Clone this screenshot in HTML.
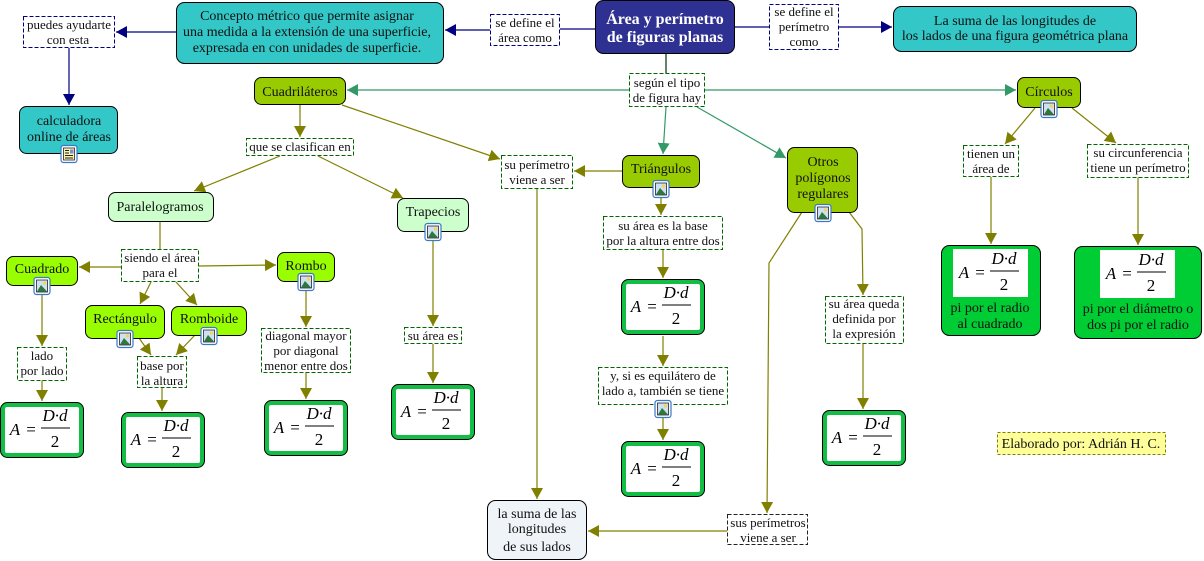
<!DOCTYPE html>
<html><head><meta charset="utf-8"><style>
html,body{margin:0;padding:0;background:#fff}
svg{display:block}
text{font-family:"Liberation Serif",serif;font-size:13px;text-anchor:middle;fill:#111}
.b{font-size:14px}
.f text{font-family:"Liberation Serif",serif;font-style:italic;font-size:17px;fill:#000}
.f .u{font-style:normal}
.n{stroke:#000;stroke-width:1}
.l{fill:#fff;stroke:#006600;stroke-width:1;stroke-dasharray:4 2}
.k{fill:#fff;stroke:#000080;stroke-width:1;stroke-dasharray:4 2}
.e{fill:none;stroke:#808000;stroke-width:1.2}
.g{fill:none;stroke:#339966;stroke-width:1.2}
.a{fill:none;stroke:#000080;stroke-width:1.2}
.o{marker-end:url(#mo)}
.s{marker-end:url(#mg)}
.v{marker-end:url(#mn)}
</style></head><body>
<svg width="1204" height="561" viewBox="0 0 1204 561" xmlns="http://www.w3.org/2000/svg">
<defs>
<marker id="mo" markerUnits="userSpaceOnUse" markerWidth="13" markerHeight="13" refX="11" refY="6" orient="auto"><path d="M0 0L11 6L0 12Z" fill="#808000"/></marker>
<marker id="mg" markerUnits="userSpaceOnUse" markerWidth="13" markerHeight="13" refX="11" refY="6" orient="auto"><path d="M0 0L11 6L0 12Z" fill="#339966"/></marker>
<marker id="mn" markerUnits="userSpaceOnUse" markerWidth="13" markerHeight="13" refX="11" refY="6" orient="auto"><path d="M0 0L11 6L0 12Z" fill="#000080"/></marker>
<g id="ic"><rect x="-8" y="-8.5" width="16" height="17" rx="2.5" fill="#fff" stroke="#3a78c8" stroke-width="1.2"/><rect x="-5.5" y="-6" width="11" height="12" fill="#cfe0f0" stroke="#223" stroke-width=".8"/><circle cx="2.5" cy="-3" r="1.6" fill="#f2d64b"/><path d="M-5 5.5L-1 -1L5 5.5Z" fill="#2b7a3c"/></g>
<g id="id"><rect x="-8" y="-8.5" width="16" height="17" rx="2.5" fill="#fff" stroke="#3a78c8" stroke-width="1.2"/><rect x="-5.5" y="-6" width="11" height="12" fill="#fbf3b0" stroke="#223" stroke-width=".8"/><path d="M-4 -3.5H0M-4 -1H0M-4 1.5H4M-4 4H4" stroke="#222" stroke-width=".9"/><rect x="1" y="-4.5" width="3.5" height="4" fill="#7e8fc8"/></g>
</defs>

<!-- navy connectors -->
<path class="a" d="M595 29H560"/>
<path class="a v" d="M490 30H445"/>
<path class="a" d="M735 27H769"/>
<path class="a v" d="M839 27H892"/>
<path class="a v" d="M176 32H116"/>
<path class="a v" d="M69 48V105"/>
<path d="M666 53V73" fill="none" stroke="#003300" stroke-width="1.2"/>

<!-- green connectors -->
<path class="g s" d="M629 90H347"/>
<path class="g s" d="M705 90H1016"/>
<path class="g s" d="M666 107L663 154"/>
<path class="g s" d="M697 107L786 158"/>

<!-- olive connectors -->
<path class="e o" d="M300 105V137"/>
<path class="e o" d="M342 105L500 159"/>
<path class="e o" d="M280 156L194 191"/>
<path class="e o" d="M318 156L403 198"/>
<path class="e" d="M160 222V249"/>
<path class="e o" d="M121 267H79"/>
<path class="e o" d="M199 266L276 265"/>
<path class="e o" d="M151 282L140 304"/>
<path class="e o" d="M176 282L197 305"/>
<path class="e o" d="M42 295V346"/>
<path class="e o" d="M42 380V401"/>
<path class="e o" d="M139 338L151 355"/>
<path class="e o" d="M195 335L176 355"/>
<path class="e o" d="M162 388V411"/>
<path class="e o" d="M306 291V327"/>
<path class="e o" d="M306 373V399"/>
<path class="e o" d="M433 241V326"/>
<path class="e o" d="M433 344V383"/>
<path class="e o" d="M537 189V499"/>
<path class="e o" d="M622 171H574"/>
<path class="e o" d="M661 198V215"/>
<path class="e o" d="M663 249V278"/>
<path class="e o" d="M663 336V366"/>
<path class="e o" d="M663 417V440"/>
<path class="e o" d="M802 212L769 263L767 513"/>
<path class="e o" d="M849 212L862 229L863 295"/>
<path class="e o" d="M863 343V409"/>
<path class="e o" d="M727 531H588"/>
<path class="e o" d="M1035 108L1005 144"/>
<path class="e o" d="M1072 108L1116 143"/>
<path class="e o" d="M991 177V244"/>
<path class="e o" d="M1138 177V245"/>

<!-- top nodes -->
<rect class="n" x="595.5" y="0.5" width="139" height="53" rx="8" fill="#2e3192"/>
<text x="665" y="24" style="font-weight:bold;fill:#fff;font-size:16px">Área y perímetro</text>
<text x="665" y="42" style="font-weight:bold;fill:#fff;font-size:16px">de figuras planas</text>

<rect class="n" x="176.5" y="2.5" width="267" height="61" rx="8" fill="#33c7c7"/>
<text class="b" x="307" y="20">Concepto métrico que permite asignar</text>
<text class="b" x="307" y="36">una medida a la extensión de una superficie,</text>
<text class="b" x="307" y="52">expresada en con unidades de superficie.</text>

<rect class="n" x="893.5" y="6.5" width="243" height="45" rx="8" fill="#33c7c7"/>
<text class="b" x="1015" y="25">La suma de las longitudes de</text>
<text class="b" x="1015" y="40">los lados de una figura geométrica plana</text>

<rect class="k" x="23.5" y="16.5" width="91" height="31"/>
<text x="69" y="29">puedes ayudarte</text>
<text x="68" y="44">con esta</text>

<rect class="n" x="19.5" y="106.5" width="98" height="47" rx="7" fill="#33c7c7"/>
<text class="b" x="69" y="125">calculadora</text>
<text class="b" x="69" y="141">online de áreas</text>
<use href="#id" x="69" y="154"/>

<rect class="k" x="490.5" y="14.5" width="69" height="31"/>
<text x="525" y="27">se define el</text>
<text x="525" y="42">área como</text>

<rect class="k" x="769.5" y="4.5" width="69" height="45"/>
<text x="804" y="16">se define el</text>
<text x="804" y="31">perímetro</text>
<text x="804" y="46">como</text>

<rect class="l" x="629.5" y="73.5" width="75" height="33"/>
<text x="667" y="87">según el tipo</text>
<text x="667" y="102">de figura hay</text>

<!-- main categories -->
<rect class="n" x="254.5" y="77.5" width="91" height="27" rx="7" fill="#99cc00"/>
<text class="b" x="300" y="96">Cuadriláteros</text>

<rect class="n" x="1017.5" y="77.5" width="63" height="30" rx="7" fill="#99cc00"/>
<text class="b" x="1049" y="96">Círculos</text>
<use href="#ic" x="1049" y="109"/>

<rect class="l" x="246.5" y="138.5" width="107" height="17"/>
<text x="300" y="151">que se clasifican en</text>

<rect class="l" x="501.5" y="155.5" width="71" height="33"/>
<text x="537" y="169">su perímetro</text>
<text x="537" y="184">viene a ser</text>

<rect class="n" x="622.5" y="155.5" width="77" height="32" rx="7" fill="#99cc00"/>
<text class="b" x="661" y="173">Triángulos</text>
<use href="#ic" x="661" y="189"/>

<rect class="n" x="787.5" y="147.5" width="70" height="65" rx="7" fill="#99cc00"/>
<text class="b" x="823" y="166">Otros</text>
<text class="b" x="823" y="182">polígonos</text>
<text class="b" x="823" y="198">regulares</text>
<use href="#ic" x="823" y="213"/>

<rect class="l" x="963.5" y="145.5" width="55" height="31"/>
<text x="991" y="158">tienen un</text>
<text x="991" y="173">área de</text>

<rect class="l" x="1087.5" y="144.5" width="101" height="33"/>
<text x="1138" y="157">su circunferencia</text>
<text x="1138" y="172">tiene un perímetro</text>

<rect class="n" x="108.5" y="192.5" width="105" height="29" rx="7" fill="#ccffcc"/>
<text class="b" x="160" y="211">Paralelogramos</text>

<rect class="n" x="397.5" y="198.5" width="71" height="33" rx="7" fill="#ccffcc"/>
<text class="b" x="433" y="216">Trapecios</text>
<use href="#ic" x="433" y="232"/>

<rect class="l" x="121.5" y="249.5" width="77" height="32"/>
<text x="160" y="262">siendo el área</text>
<text x="160" y="277">para el</text>

<rect class="n" x="6.5" y="256.5" width="71" height="29" rx="7" fill="#99ff00"/>
<text class="b" x="42" y="273">Cuadrado</text>
<use href="#ic" x="42" y="286"/>

<rect class="n" x="277.5" y="252.5" width="57" height="29" rx="7" fill="#99ff00"/>
<text class="b" x="306" y="270">Rombo</text>
<use href="#ic" x="306" y="282"/>

<rect class="n" x="85.5" y="305.5" width="79" height="33" rx="7" fill="#99ff00"/>
<text class="b" x="125" y="323">Rectángulo</text>
<use href="#ic" x="125" y="339"/>

<rect class="n" x="171.5" y="306.5" width="75" height="29" rx="7" fill="#99ff00"/>
<text class="b" x="209" y="323">Romboide</text>
<use href="#ic" x="209" y="336"/>

<rect class="l" x="17.5" y="347.5" width="49" height="33"/>
<text x="42" y="360">lado</text>
<text x="42" y="375">por lado</text>

<rect class="l" x="137.5" y="356.5" width="49" height="31"/>
<text x="162" y="370">base por</text>
<text x="162" y="385">la altura</text>

<rect class="l" x="261.5" y="328.5" width="89" height="44"/>
<text x="306" y="340">diagonal mayor</text>
<text x="306" y="355">por diagonal</text>
<text x="306" y="370">menor entre dos</text>

<rect class="l" x="404.5" y="327.5" width="57" height="16"/>
<text x="433" y="340">su área es</text>

<rect class="l" x="603.5" y="216.5" width="119" height="33"/>
<text x="663" y="230">su área es la base</text>
<text x="663" y="245">por la altura entre dos</text>

<rect class="l" x="598.5" y="367.5" width="129" height="37"/>
<text x="663" y="380">y, si es equilátero de</text>
<text x="663" y="395">lado a, también se tiene</text>
<use href="#ic" x="663" y="409"/>

<rect class="l" x="825.5" y="296.5" width="78" height="47"/>
<text x="864" y="308">su área queda</text>
<text x="864" y="323">definida por</text>
<text x="864" y="338">la expresión</text>

<!-- formula boxes -->
<g transform="translate(0,402)"><rect class="n" x=".5" y=".5" width="83" height="55" rx="7" fill="#12bf44"/><rect x="5" y="5" width="74" height="46" rx="2" fill="#fff"/><g class="f"><text x="15" y="33">A</text><text class="u" x="31" y="33">=</text><text x="55" y="19">D·d</text><path d="M41 26H70" stroke="#000"/><text class="u" x="55" y="45">2</text></g></g>
<g transform="translate(121,412)"><rect class="n" x=".5" y=".5" width="83" height="55" rx="7" fill="#12bf44"/><rect x="5" y="5" width="74" height="46" rx="2" fill="#fff"/><g class="f"><text x="15" y="33">A</text><text class="u" x="31" y="33">=</text><text x="55" y="19">D·d</text><path d="M41 26H70" stroke="#000"/><text class="u" x="55" y="45">2</text></g></g>
<g transform="translate(264,400)"><rect class="n" x=".5" y=".5" width="83" height="55" rx="7" fill="#12bf44"/><rect x="5" y="5" width="74" height="46" rx="2" fill="#fff"/><g class="f"><text x="15" y="33">A</text><text class="u" x="31" y="33">=</text><text x="55" y="19">D·d</text><path d="M41 26H70" stroke="#000"/><text class="u" x="55" y="45">2</text></g></g>
<g transform="translate(391,384)"><rect class="n" x=".5" y=".5" width="83" height="55" rx="7" fill="#12bf44"/><rect x="5" y="5" width="74" height="46" rx="2" fill="#fff"/><g class="f"><text x="15" y="33">A</text><text class="u" x="31" y="33">=</text><text x="55" y="19">D·d</text><path d="M41 26H70" stroke="#000"/><text class="u" x="55" y="45">2</text></g></g>
<g transform="translate(621,279)"><rect class="n" x=".5" y=".5" width="83" height="55" rx="7" fill="#12bf44"/><rect x="5" y="5" width="74" height="46" rx="2" fill="#fff"/><g class="f"><text x="15" y="33">A</text><text class="u" x="31" y="33">=</text><text x="55" y="19">D·d</text><path d="M41 26H70" stroke="#000"/><text class="u" x="55" y="45">2</text></g></g>
<g transform="translate(621,441)"><rect class="n" x=".5" y=".5" width="83" height="55" rx="7" fill="#12bf44"/><rect x="5" y="5" width="74" height="46" rx="2" fill="#fff"/><g class="f"><text x="15" y="33">A</text><text class="u" x="31" y="33">=</text><text x="55" y="19">D·d</text><path d="M41 26H70" stroke="#000"/><text class="u" x="55" y="45">2</text></g></g>
<g transform="translate(822,410)"><rect class="n" x=".5" y=".5" width="83" height="55" rx="7" fill="#12bf44"/><rect x="5" y="5" width="74" height="46" rx="2" fill="#fff"/><g class="f"><text x="15" y="33">A</text><text class="u" x="31" y="33">=</text><text x="55" y="19">D·d</text><path d="M41 26H70" stroke="#000"/><text class="u" x="55" y="45">2</text></g></g>

<!-- circle result boxes -->
<rect class="n" x="941.5" y="245.5" width="99" height="90" rx="8" fill="#00cc33"/>
<rect x="953" y="249" width="75" height="48" fill="#fff"/>
<g transform="translate(949,245)" class="f"><text x="15" y="33">A</text><text class="u" x="31" y="33">=</text><text x="55" y="19">D·d</text><path d="M41 26H70" stroke="#000"/><text class="u" x="55" y="45">2</text></g>
<text class="b" x="990" y="312">pi por el radio</text>
<text class="b" x="990" y="328">al cuadrado</text>

<rect class="n" x="1074.5" y="246.5" width="127" height="92" rx="8" fill="#00cc33"/>
<rect x="1100" y="250" width="75" height="48" fill="#fff"/>
<g transform="translate(1096,246)" class="f"><text x="15" y="33">A</text><text class="u" x="31" y="33">=</text><text x="55" y="19">D·d</text><path d="M41 26H70" stroke="#000"/><text class="u" x="55" y="45">2</text></g>
<text class="b" x="1138" y="313">pi por el diámetro o</text>
<text class="b" x="1138" y="329">dos pi por el radio</text>

<rect x="997.5" y="432.5" width="168" height="22" fill="#ffff99" stroke="#808000" stroke-dasharray="3 2"/>
<text class="b" x="1081" y="448">Elaborado por: Adrián H. C.</text>

<rect class="n" x="487.5" y="500.5" width="99" height="59" rx="8" fill="#eef4f8"/>
<text class="b" x="537" y="518">la suma de las</text>
<text class="b" x="537" y="533">longitudes</text>
<text class="b" x="537" y="551">de sus lados</text>

<rect x="727.5" y="514.5" width="80" height="30" fill="#fff" stroke="#222" stroke-dasharray="4 2"/>
<text x="768" y="527">sus perímetros</text>
<text x="768" y="542">viene a ser</text>
</svg>
</body></html>
